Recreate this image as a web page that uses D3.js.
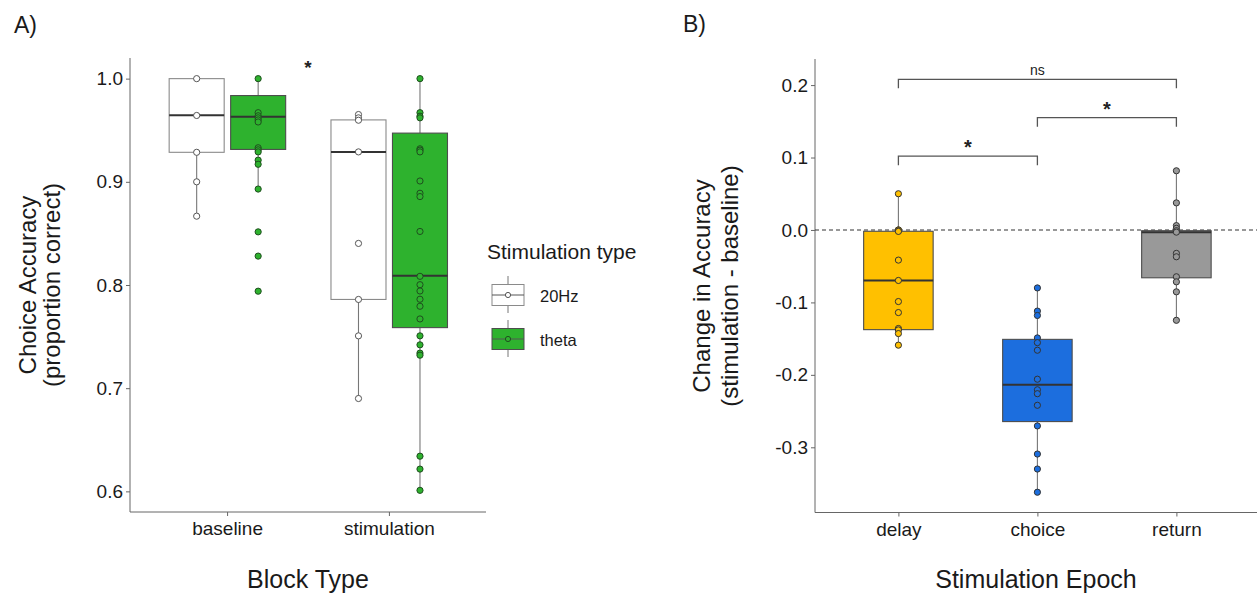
<!DOCTYPE html>
<html>
<head>
<meta charset="utf-8">
<script src="https://cdn.jsdelivr.net/npm/d3@7"></script>
<style>
  body { margin: 0; background: #fff; }
  svg { display: block; font-family: "Liberation Sans", Arial, sans-serif; }
</style>
</head>
<body>
<div id="chart"></div>
<script>
// ---- panel A data ----
var blockTypes = ["baseline", "stimulation"];
var stimTypes = ["20Hz", "theta"];
var stimColors = ["#ffffff", "#2eb22e"];
// box summaries per block type: [lower whisker, q1, median, q3, upper whisker]
var box20Hz = [[0.867, 0.9286, 0.9645, 1.0, 1.0], [0.690, 0.786, 0.929, 0.960, 0.965]];
var boxTheta = [[0.893, 0.9314, 0.963, 0.9836, 1.0], [0.601, 0.7587, 0.809, 0.9472, 1.0]];
var pts20Hz = [
  [1.0, 0.9643, 0.9286, 0.9, 0.8667],
  [0.9652, 0.962, 0.9597, 0.929, 0.8403, 0.786, 0.7507, 0.690]
];
var ptsTheta = [
  [1.0, 0.967, 0.964, 0.962, 0.960, 0.958, 0.933, 0.931, 0.929, 0.921, 0.917, 0.893, 0.8515, 0.828, 0.794],
  [1.0, 0.967, 0.9636, 0.962, 0.932, 0.9307, 0.929, 0.9008, 0.8889, 0.8857, 0.8519, 0.8084, 0.8003, 0.7942,
   0.7862, 0.7794, 0.7671, 0.7507, 0.742, 0.734, 0.732, 0.6341, 0.6216, 0.601]
];
var yTicksA = [0.6, 0.7, 0.8, 0.9, 1.0];

// ---- panel B data ----
var epochs = ["delay", "choice", "return"];
var epochColors = ["#ffc000", "#1c6ede", "#999999"];
var epochBoxes = [
  [-0.16, -0.1376, -0.0697, -0.0018, 0.05],
  [-0.363, -0.2645, -0.2137, -0.151, -0.080],
  [-0.125, -0.066, -0.003, -0.001, 0.0817]
];
var epochPoints = [
  [0.05, 0.0, 0.0, -0.001, -0.002, -0.0416, -0.0697, -0.0988, -0.114, -0.136, -0.138, -0.143, -0.159],
  [-0.08, -0.112, -0.118, -0.149, -0.1555, -0.166, -0.206, -0.2206, -0.226, -0.242, -0.2705, -0.3093, -0.330, -0.362],
  [0.0817, 0.0374, 0.006, 0.0023, -0.001, -0.003, -0.0323, -0.037, -0.0646, -0.0716, -0.0854, -0.1247]
];
var yTicksB = [-0.3, -0.2, -0.1, 0.0, 0.1, 0.2];
// comparisons: [from, to, label, bracket height]
var comparisons = [
  ["delay", "choice", "*", 0.102],
  ["choice", "return", "*", 0.155],
  ["delay", "return", "ns", 0.208]
];

var W = 1257, H = 594;
var svg = d3.select("#chart").append("svg").attr("width", W).attr("height", H);
var fmt = function(v){ return v.toFixed(1); };
var axisCol = "#666";

function styleAxis(g) {
  g.select(".domain").attr("stroke", axisCol);
  g.selectAll(".tick line").attr("stroke", axisCol);
  g.selectAll(".tick text").attr("fill", "#1a1a1a").style("font-size", "19px");
}

function drawBox(g, cx, w, s, y, fill, edge) {
  g.append("line").attr("x1", cx).attr("x2", cx).attr("y1", y(s[0])).attr("y2", y(s[1]))
    .attr("stroke", "#777").attr("stroke-width", 1.1);
  g.append("line").attr("x1", cx).attr("x2", cx).attr("y1", y(s[3])).attr("y2", y(s[4]))
    .attr("stroke", "#777").attr("stroke-width", 1.1);
  g.append("rect").attr("x", cx - w / 2).attr("width", w)
    .attr("y", y(s[3])).attr("height", y(s[1]) - y(s[3]))
    .attr("fill", fill).attr("stroke", edge).attr("stroke-width", 1.1);
  g.append("line").attr("x1", cx - w / 2).attr("x2", cx + w / 2).attr("y1", y(s[2])).attr("y2", y(s[2]))
    .attr("stroke", "#333").attr("stroke-width", 2);
}

function drawPoints(g, cx, vals, y, fill, stroke) {
  g.selectAll(null).data(vals).enter().append("circle")
    .attr("cx", cx).attr("cy", function(d){ return y(d); }).attr("r", 3.1)
    .attr("fill", fill).attr("stroke", stroke).attr("stroke-width", 1);
}

// ================= Panel A =================
var xA = d3.scalePoint().domain(blockTypes).range([130, 486]).padding(0.6);
var yA = d3.scaleLinear().domain([0.58, 1.02]).range([512, 58]);
var stepA = xA.step();
var gA = svg.append("g");

gA.append("g").attr("transform", "translate(130,0)")
  .call(d3.axisLeft(yA).tickValues(yTicksA).tickFormat(fmt).tickSize(4).tickPadding(3))
  .call(styleAxis).call(function(g){ g.select(".domain").attr("d", "M0,512V58"); });
gA.append("g").attr("transform", "translate(0,512)")
  .call(d3.axisBottom(xA).tickSize(4).tickPadding(6))
  .call(styleAxis).call(function(g){ g.select(".domain").attr("d", "M130,0H486"); });

blockTypes.forEach(function(b, i) {
  var c0 = xA(b) - 0.188 * stepA, c1 = xA(b) + 0.192 * stepA, bw = 0.34 * stepA;
  drawBox(gA, c0, bw, box20Hz[i], yA, stimColors[0], "#8a8a8a");
  drawBox(gA, c1, bw, boxTheta[i], yA, stimColors[1], "#4d4d4d");
  drawPoints(gA, c0, pts20Hz[i], yA, "#fff", "#555");
  drawPoints(gA, c1, ptsTheta[i], yA, stimColors[1], "#1f4f1f");
});

gA.append("text").attr("x", (xA(blockTypes[0]) + xA(blockTypes[1])) / 2).attr("y", yA(1.018))
  .attr("text-anchor", "middle").attr("dy", "0.72em").style("font-size", "19px").style("font-weight", "bold")
  .attr("fill", "#222").text("*");

gA.append("text").attr("x", 308).attr("y", 588).attr("text-anchor", "middle")
  .style("font-size", "25px").attr("fill", "#1a1a1a").text("Block Type");
gA.append("text").attr("transform", "translate(36,285) rotate(-90)").attr("text-anchor", "middle")
  .style("font-size", "24px").attr("fill", "#1a1a1a").text("Choice Accuracy");
gA.append("text").attr("transform", "translate(60,285) rotate(-90)").attr("text-anchor", "middle")
  .style("font-size", "24px").attr("fill", "#1a1a1a").text("(proportion correct)");
svg.append("text").attr("x", 14).attr("y", 33).style("font-size", "23px").attr("fill", "#1a1a1a").text("A)");

// legend
var lg = svg.append("g");
lg.append("text").attr("x", 487).attr("y", 259).style("font-size", "21px").attr("fill", "#1a1a1a").text("Stimulation type");
stimTypes.forEach(function(s, i) {
  var cy = 295 + i * 44, kx = 508;
  lg.append("line").attr("x1", kx).attr("x2", kx).attr("y1", cy - 19).attr("y2", cy + 18)
    .attr("stroke", "#777");
  lg.append("rect").attr("x", kx - 16).attr("y", cy - 10.5).attr("width", 32).attr("height", 21)
    .attr("fill", stimColors[i]).attr("stroke", i ? "#4d4d4d" : "#8a8a8a");
  lg.append("line").attr("x1", kx - 16).attr("x2", kx + 16).attr("y1", cy).attr("y2", cy)
    .attr("stroke", "#555").attr("stroke-width", 1);
  lg.append("circle").attr("cx", kx).attr("cy", cy).attr("r", 2.6)
    .attr("fill", stimColors[i]).attr("stroke", i ? "#1f4f1f" : "#555");
  lg.append("text").attr("x", 540).attr("y", cy + 6.5).style("font-size", "16.5px").attr("fill", "#1a1a1a").text(s);
});

// ================= Panel B =================
var xB = d3.scalePoint().domain(epochs).range([815, 815 + 3.2 * 139]).padding(0.6);
var yB = d3.scaleLinear().domain([-0.39, 0.236]).range([512.5, 59]);
var stepB = xB.step();
var gB = svg.append("g");

gB.append("g").attr("transform", "translate(815,0)")
  .call(d3.axisLeft(yB).tickValues(yTicksB).tickFormat(fmt).tickSize(4).tickPadding(3))
  .call(styleAxis).call(function(g){ g.select(".domain").attr("d", "M0,512.5V59"); });
gB.append("g").attr("transform", "translate(0,512.5)")
  .call(d3.axisBottom(xB).tickSize(4).tickPadding(6))
  .call(styleAxis).call(function(g){ g.select(".domain").attr("d", "M815,0H1257"); });

gB.append("line").attr("x1", 815).attr("x2", W).attr("y1", yB(0)).attr("y2", yB(0))
  .attr("stroke", "#333").attr("stroke-width", 1.1).attr("stroke-dasharray", "4,3");

epochs.forEach(function(e, i) {
  var cx = xB(e);
  drawBox(gB, cx, 0.5 * stepB, epochBoxes[i], yB, epochColors[i], "#4d4d4d");
  drawPoints(gB, cx, epochPoints[i], yB, epochColors[i], "#333");
});

comparisons.forEach(function(c) {
  var x1 = xB(c[0]), x2 = xB(c[1]), yy = yB(c[3]), tip = yB(c[3] - 0.0125);
  gB.append("path").attr("d", "M" + x1 + "," + tip + "V" + yy + "H" + x2 + "V" + tip)
    .attr("fill", "none").attr("stroke", "#555").attr("stroke-width", 1.3);
  var t = gB.append("text").attr("x", (x1 + x2) / 2).attr("text-anchor", "middle").attr("fill", "#222");
  if (c[2] === "ns") t.attr("y", yy - 4.5).style("font-size", "14px").text(c[2]);
  else t.attr("y", yy - 2).style("font-size", "20px").style("font-weight", "bold").text(c[2]);
});

gB.append("text").attr("x", 1036).attr("y", 588).attr("text-anchor", "middle")
  .style("font-size", "25px").attr("fill", "#1a1a1a").text("Stimulation Epoch");
gB.append("text").attr("transform", "translate(710,286) rotate(-90)").attr("text-anchor", "middle")
  .style("font-size", "24px").attr("fill", "#1a1a1a").text("Change in Accuracy");
gB.append("text").attr("transform", "translate(738,286) rotate(-90)").attr("text-anchor", "middle")
  .style("font-size", "24px").attr("fill", "#1a1a1a").text("(stimulation - baseline)");
svg.append("text").attr("x", 683).attr("y", 32).style("font-size", "23px").attr("fill", "#1a1a1a").text("B)");
</script>
</body>
</html>
